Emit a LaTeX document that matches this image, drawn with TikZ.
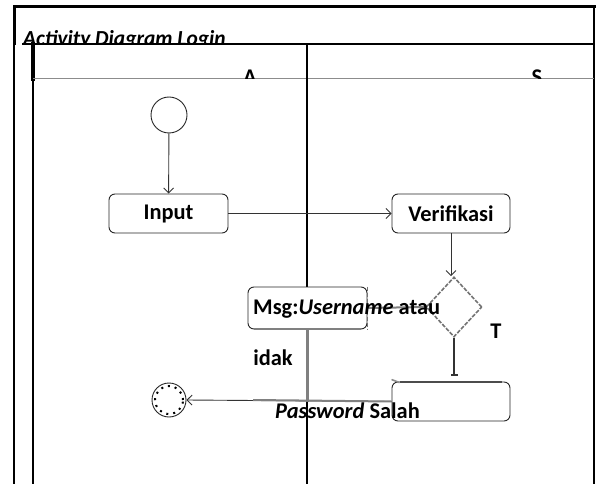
\documentclass[tikz,border=0pt]{standalone}
\usepackage{fontspec}
\setmainfont{Carlito}
\usetikzlibrary{arrows.meta,shapes.geometric}
\begin{document}
\begin{tikzpicture}[x=1bp,y=-1bp,
  frame/.style={draw=black,line cap=rect},
  act/.style={draw=black!85,line width=0.9bp,rounded corners=6bp,fill=white,
    font=\fontsize{22.5}{26}\selectfont\bfseries,inner sep=0,minimum height=39bp},
  flow/.style={draw=black!80,line width=0.9bp,-{Straight Barb[length=5bp,width=10bp]}},
  lbl/.style={font=\fontsize{22.5}{26}\selectfont\bfseries,inner sep=0},
  grayline/.style={draw=black!50,line width=2bp},
]
\useasboundingbox (0,0) rectangle (597,484);
% ---- frame ----
\draw[frame,line width=3bp] (14,7) -- (594,7);
\draw[frame,line width=3bp] (14.5,7) -- (14.5,44);
\draw[frame,line width=1.2bp] (14,44) -- (14,484);
\draw[frame,line width=1.2bp] (594,7) -- (594,484);
\draw[frame,line width=2.5bp] (23,44) -- (594,44);
\draw[frame,line width=3.5bp] (33,44) -- (33,79);
\draw[frame,line width=1.2bp] (33,79) -- (33,484);
\draw[draw=black!45,line width=1bp] (33,79) -- (594,79);
\draw[frame,line width=1.6bp] (307,44) -- (307,484);
% ---- clipped titles ----
\begin{scope}
  \clip (0,0) rectangle (597,43);
  \node[anchor=base west,inner sep=0,font=\fontsize{21.5}{25}\selectfont\bfseries\itshape] (title) at (23,46) {Activity Diagram Login};
\end{scope}
\begin{scope}
  \clip (34,45) rectangle (593,78.5);
  \node[anchor=base,lbl] (laneA) at (250,84.5) {A};
  \node[anchor=base,lbl] (laneS) at (537,84.5) {S};
\end{scope}
% ---- nodes ----
\node[draw=black!85,circle,minimum size=36bp,inner sep=0,line width=0.9bp] (start) at (169,115) {};
\node[act,minimum width=119bp] (input) at (168.5,213.5) {Input};
\node[act,minimum width=118bp] (verif) at (451,213.5) {Verifikasi};
\node[diamond,draw=black!55,dash pattern=on 4bp off 1.5bp,line width=1.6bp,minimum width=56bp,minimum height=60bp,inner sep=0] (dec) at (454,307) {};
\node[act,minimum width=119bp,minimum height=42bp] (msg) at (307.5,308) {};
\node[act,minimum width=118bp,minimum height=39bp] (salah) at (451,401.5) {};
\node[draw=black!85,circle,minimum size=34bp,inner sep=0,line width=0.9bp] (end) at (169,400) {};
% partial overlays on boxes
\draw[draw=black!55,line width=1.6bp,dash pattern=on 4bp off 2bp] (msg.north east) -- (msg.south east);
\draw[grayline] ([xshift=6bp]msg.south west) -- ([xshift=-6bp]msg.south east);
\draw[draw=black!70,line width=2bp] ([xshift=8bp]salah.north west) -- ([xshift=-8bp]salah.north east);
\draw[draw=black!45,line width=1.6bp] ([yshift=2bp]salah.north west) -- ([xshift=8bp,yshift=-1bp]salah.north west);
\draw[black,line width=2bp,dash pattern=on 2bp off 5bp] (end.center) circle (14bp);
% ---- connectors ----
\draw[flow] (start) -- (input);
\draw[flow] (input) -- (verif);
\draw[flow] (verif.south) -- (verif.south |- dec.north);
\draw[grayline] (dec.west) -- (msg.east);
\draw[draw=black!80,line width=2bp,-{Bar[width=7bp,line width=1.2bp]},shorten >=6bp] (dec.south) -- (dec.south |- salah.north);
\draw[grayline,line width=2.5bp] (msg.south) -- (msg.south |- salah.west);
\draw[flow] (salah.west) -- (end.east);
\coordinate (graystop) at (253,400);
\draw[grayline] (salah.west) -- (graystop);
% ---- texts ----
\node[lbl,anchor=base west] (msgtext) at (253,314) {Msg:\textit{Username} atau};
\node[lbl] (tlabel) at (496,331) {T};
\node[lbl] (idak) at (273,358) {idak};
\node[lbl,anchor=base west] (pwtext) at (275,418) {\textit{Password} Salah};
\end{tikzpicture}
\end{document}
